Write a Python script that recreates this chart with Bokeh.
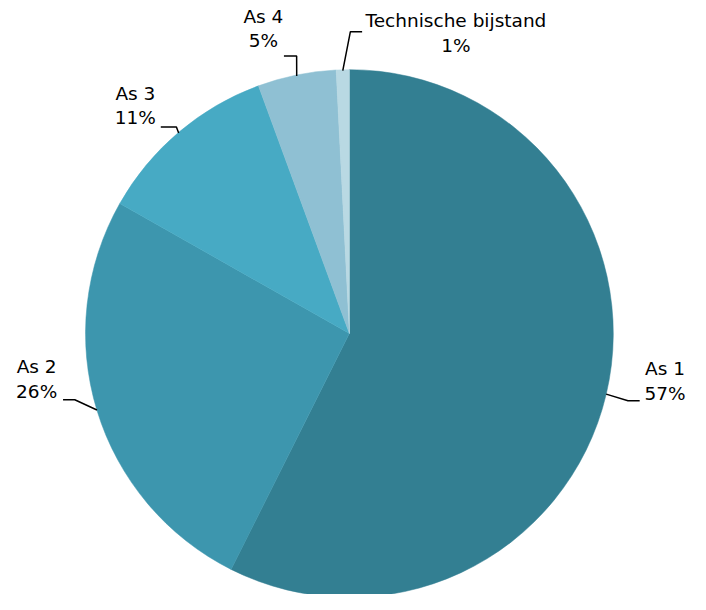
import math
from bokeh.plotting import figure
from bokeh.models import Range1d, ColumnDataSource
from bokeh.core.properties import value
from bokeh.embed import file_html
from bokeh.resources import INLINE

# ---- data ----
categories = ["As 1", "As 2", "As 3", "As 4", "Technische bijstand"]
shares = [57.4, 25.8, 11.2, 4.8, 0.8]
pct_labels = ["57%", "26%", "11%", "5%", "1%"]
colors = ["#337f92", "#3d96ae", "#47aac4", "#8fc0d3", "#b9d9e3"]

# ---- layout (chart units, x right, y up) ----
W, H = 690, 594          # pixel size of the figure
XR, YR = 706, 610        # chart coordinate extent
cx, cy, R = 357, 268, 270
# label text centre (name line) per slice
label_pos = [(680, 232), (37, 234), (138, 515), (269, 594), (466, 589)]
# leader elbow and horizontal end per slice
elbow_pos = [(642, 199), (76, 200), (180, 480), (303, 553), (358, 578)]
end_pos = [(654, 199), (64, 200), (164, 480), (290, 553), (370, 578)]

p = figure(width=W, height=H, output_backend="svg", toolbar_location=None,
           x_range=Range1d(0, XR), y_range=Range1d(0, YR), min_border=0)
p.axis.visible = False
p.grid.visible = False
p.outline_line_color = None
p.background_fill_color = "white"
p.border_fill_color = "white"

total = sum(shares)
starts, ends, mids = [], [], []
cum = 0.0
for s in shares:
    a0 = math.pi / 2 - 2 * math.pi * cum / total
    cum += s
    a1 = math.pi / 2 - 2 * math.pi * cum / total
    starts.append(a0)
    ends.append(a1)
    mids.append((a0 + a1) / 2)

src = ColumnDataSource(dict(x=[cx] * len(shares), y=[cy] * len(shares),
                            start=starts, end=ends, color=colors))
p.wedge(x="x", y="y", radius=R, start_angle="start", end_angle="end",
        direction="clock", fill_color="color", line_color="color",
        line_width=0.5, source=src)

# leader lines
xs, ys = [], []
for m, el, en in zip(mids, elbow_pos, end_pos):
    ex, ey = cx + R * math.cos(m), cy + R * math.sin(m)
    xs.append([ex, el[0], en[0]])
    ys.append([ey, el[1], en[1]])
p.multi_line(xs=xs, ys=ys, line_color="black", line_width=1.5)

font = value("DejaVu Sans")
p.text(x=[l[0] for l in label_pos], y=[l[1] for l in label_pos], text=categories,
       text_font=font, text_font_size="18.5px", text_align="center",
       text_baseline="middle", text_color="black")
p.text(x=[l[0] for l in label_pos], y=[l[1] - 25.5 for l in label_pos], text=pct_labels,
       text_font=font, text_font_size="18.5px", text_align="center",
       text_baseline="middle", text_color="black")

open("out.html", "w").write(file_html(p, INLINE))
